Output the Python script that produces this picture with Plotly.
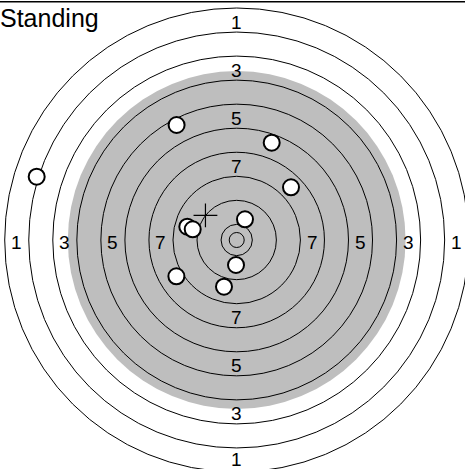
import plotly.graph_objects as go

# ISSF 50m rifle target geometry (mm)
ring_scores = [1, 2, 3, 4, 5, 6, 7, 8, 9, 10]
ring_radii = [77.2, 69.2, 61.2, 53.2, 45.2, 37.2, 29.2, 21.2, 13.2, 5.2]
inner_ten_radius = 2.5
black_radius = 56.2
label_scores = [1, 3, 5, 7]
label_radii = [73.2, 57.2, 41.2, 25.2]

# shot coordinates (mm from centre)
shot_x = [-20.0, 11.65, -66.56, 18.07, 2.76, -16.44, -14.64, -0.23, -20.07, -4.23]
shot_y = [38.27, 32.38, 21.06, 17.54, 6.89, 4.43, 3.56, -8.32, -12.08, -15.54]
group_center_x = [-10.4]
group_center_y = [8.2]

title_text = "Standing"

W, H = 465, 469
scale = 3.005  # px per mm
cx_px, cy_px = 236.7, 240.0
x_range = [-cx_px / scale, (W - cx_px) / scale]
y_range = [-(H - cy_px) / scale, cy_px / scale]

shapes = []
shapes.append(dict(type="circle", xref="x", yref="y",
                   x0=-black_radius, y0=-black_radius, x1=black_radius, y1=black_radius,
                   fillcolor="#BEBEBE", line=dict(width=0), layer="below"))
for r in ring_radii + [inner_ten_radius]:
    shapes.append(dict(type="circle", xref="x", yref="y",
                       x0=-r, y0=-r, x1=r, y1=r,
                       line=dict(color="black", width=1), layer="below"))
shapes.append(dict(type="line", xref="paper", yref="paper",
                   x0=0, x1=1, y0=1 - 1.8 / H, y1=1 - 1.8 / H,
                   line=dict(color="black", width=1.5)))

annotations = []
for s, r in zip(label_scores, label_radii):
    for dx, dy in [(0, 1), (0, -1), (1, 0), (-1, 0)]:
        ys = 0 if (dy == -1 and s == 1) else -2
        annotations.append(dict(x=dx * r, y=dy * r, xref="x", yref="y",
                                text=str(s), showarrow=False, yshift=ys,
                                font=dict(family="Liberation Sans, Arial", size=19, color="black")))
annotations.append(dict(x=0, y=1 - 2 / H, xref="paper", yref="paper",
                        xanchor="left", yanchor="top", text=title_text, showarrow=False,
                        xshift=-2,
                        font=dict(family="Liberation Sans, Arial", size=25, color="black")))

fig = go.Figure()
fig.add_trace(go.Scatter(x=shot_x, y=shot_y, mode="markers",
                         marker=dict(size=16, color="white", line=dict(color="black", width=2)),
                         hoverinfo="skip", showlegend=False))
fig.add_trace(go.Scatter(x=group_center_x, y=group_center_y, mode="markers",
                         marker=dict(symbol="cross-thin", size=17, line=dict(color="black", width=1.2)),
                         hoverinfo="skip", showlegend=False))

fig.update_layout(width=W, height=H, margin=dict(l=0, r=0, t=0, b=0),
                  paper_bgcolor="white", plot_bgcolor="white",
                  xaxis=dict(range=x_range, visible=False, fixedrange=True),
                  yaxis=dict(range=y_range, visible=False, fixedrange=True),
                  shapes=shapes, annotations=annotations, showlegend=False)

fig.write_html("out.html", config={"displayModeBar": False},
               post_script="document.body.style.margin='0';document.body.style.overflow='hidden';")
